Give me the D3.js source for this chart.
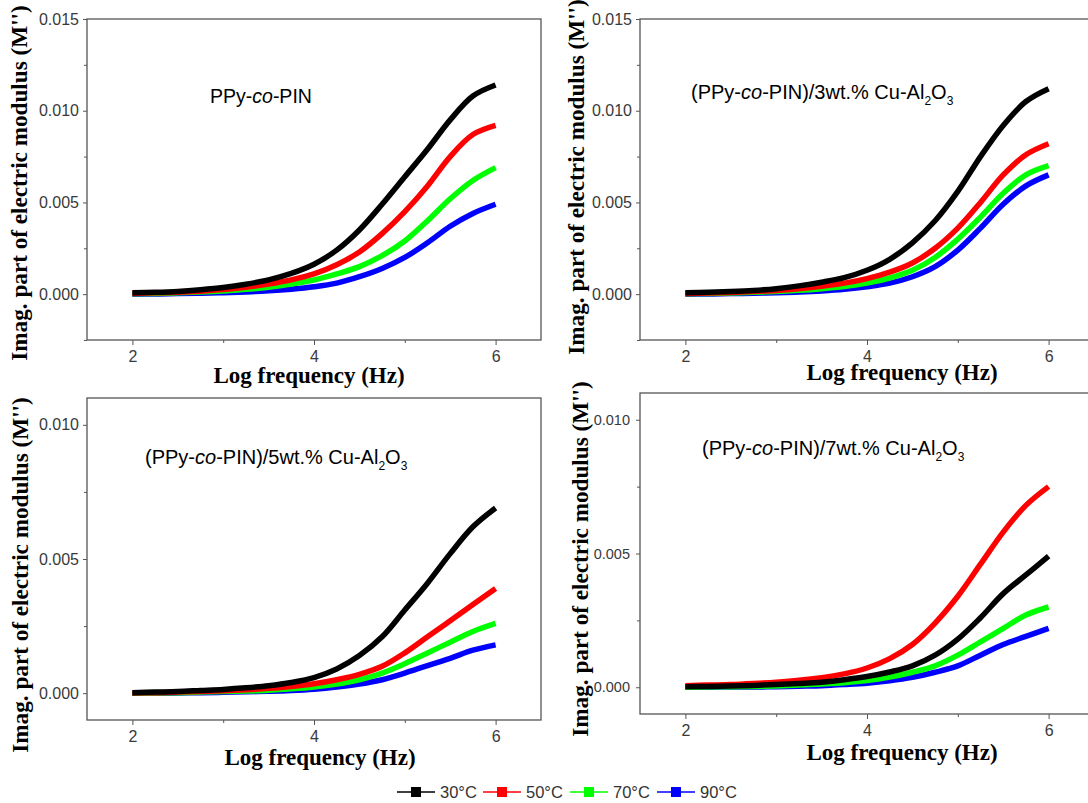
<!DOCTYPE html>
<html lang="en">
<head>
<meta charset="UTF-8">
<title>Electric modulus</title>
<script src="https://d3js.org/d3.v7.min.js"></script>
<style>
  body { margin: 0; background: #fff; overflow: hidden; }
  .tick text { font-family: "Liberation Sans", Arial, sans-serif; fill: #3a3a3a; }
</style>
</head>
<body>
<script>
    // log frequency points shared by all curves
    const logFreq = [2, 2.25, 2.5, 2.75, 3, 3.25, 3.5, 3.75, 4, 4.25, 4.5, 4.75, 5, 5.25, 5.5, 5.75, 6];

    const temps = ["30°C", "50°C", "70°C", "90°C"];
    const colors = ["#000000", "#ff0000", "#00ff00", "#0000ff"];

    // PPy-co-PIN
    const p0_30 = [0.00007, 0.0001, 0.00015, 0.00024, 0.00036, 0.00054, 0.00078, 0.00113, 0.00163, 0.0024, 0.0035, 0.0049, 0.0064, 0.0079, 0.0095, 0.0108, 0.0114];
    const p0_50 = [0.00004, 0.00007, 0.0001, 0.00016, 0.00025, 0.00038, 0.00055, 0.00078, 0.0011, 0.0016, 0.0023, 0.0033, 0.0045, 0.0059, 0.0075, 0.0087, 0.0092];
    const p0_70 = [0.00002, 0.00004, 0.00007, 0.00011, 0.00017, 0.00026, 0.00038, 0.00055, 0.00077, 0.0011, 0.0015, 0.0021, 0.0029, 0.004, 0.0052, 0.0062, 0.0069];
    const p0_90 = [0.0, 0.00001, 0.00003, 0.00005, 0.00008, 0.00012, 0.00018, 0.00027, 0.0004, 0.0006, 0.00095, 0.0014, 0.002, 0.0028, 0.0037, 0.0044, 0.0049];

    // 3 wt.% Cu-Al2O3
    const p3_30 = [0.00007, 0.0001, 0.00014, 0.0002, 0.0003, 0.00045, 0.00065, 0.0009, 0.0013, 0.0019, 0.0028, 0.004, 0.0056, 0.0075, 0.0092, 0.0105, 0.0112];
    const p3_50 = [0.00004, 0.00006, 0.00009, 0.00014, 0.0002, 0.0003, 0.00043, 0.0006, 0.00085, 0.0012, 0.0017, 0.0025, 0.0036, 0.005, 0.0065, 0.0076, 0.0082];
    const p3_70 = [0.00002, 0.00004, 0.00006, 0.0001, 0.00015, 0.00021, 0.0003, 0.00042, 0.0006, 0.00088, 0.0013, 0.002, 0.003, 0.0042, 0.0055, 0.0065, 0.007];
    const p3_90 = [0.0, 0.00001, 0.00003, 0.00005, 0.00007, 0.00011, 0.00017, 0.00026, 0.0004, 0.0006, 0.00095, 0.0015, 0.0024, 0.0036, 0.0049, 0.0059, 0.0065];

    // 5 wt.% Cu-Al2O3
    const p5_30 = [0.00002, 0.00004, 0.00006, 0.0001, 0.00014, 0.0002, 0.00028, 0.0004, 0.00058, 0.0009, 0.0014, 0.0021, 0.0031, 0.0041, 0.0052, 0.0062, 0.0069];
    const p5_50 = [0.00001, 0.00002, 0.00004, 0.00006, 0.00009, 0.00013, 0.00018, 0.00025, 0.00035, 0.0005, 0.0007, 0.001, 0.0015, 0.0021, 0.0027, 0.0033, 0.0039];
    const p5_70 = [0.0, 0.00001, 0.00002, 0.00004, 0.00006, 0.00008, 0.00011, 0.00016, 0.00023, 0.00034, 0.0005, 0.00075, 0.0011, 0.0015, 0.0019, 0.0023, 0.0026];
    const p5_90 = [0.0, 0.0, 0.00001, 0.00002, 0.00003, 0.00005, 0.00007, 0.0001, 0.00015, 0.00023, 0.00034, 0.0005, 0.00075, 0.00103, 0.0013, 0.0016, 0.0018];

    // 7 wt.% Cu-Al2O3
    const p7_30 = [0.00002, 0.00003, 0.00005, 0.00007, 0.0001, 0.00014, 0.00019, 0.00028, 0.0004, 0.00057, 0.0008, 0.0012, 0.0018, 0.0026, 0.0035, 0.0042, 0.0049];
    const p7_50 = [0.00006, 0.00008, 0.0001, 0.00014, 0.00019, 0.00026, 0.00036, 0.0005, 0.00072, 0.00107, 0.0016, 0.0024, 0.0034, 0.0046, 0.0058, 0.0068, 0.0075];
    const p7_70 = [0.0, 0.00001, 0.00002, 0.00003, 0.00005, 0.00008, 0.00012, 0.00017, 0.00025, 0.00038, 0.00056, 0.0008, 0.0012, 0.0017, 0.0022, 0.0027, 0.003];
    const p7_90 = [0.0, 0.0, 0.00001, 0.00001, 0.00002, 0.00004, 0.00006, 0.0001, 0.00015, 0.00024, 0.00037, 0.00056, 0.0008, 0.0012, 0.0016, 0.0019, 0.0022];

    const yTicksTop = [0, 0.005, 0.01, 0.015];
    const yMinorTop = [-0.0025, 0.0025, 0.0075, 0.0125];
    const yTicksBottom = [0, 0.005, 0.01];
    const yMinorBottom = [0.0025, 0.0075];
    const xTicks = [2, 4, 6];
    const xMinor = [3, 5];

    const panels = [
        { left: 87, top: 19, bottom: 340, yDom: [-0.0025, 0.015], yTicks: yTicksTop, yMinor: yMinorTop,
          series: [p0_30, p0_50, p0_70, p0_90], title: ["PPy-", "co", "-PIN"], sub: false,
          tx: 210, ty: 103, yTitleX: 27, yTitleY: 183, xTitleX: 309, xTitleY: 383, tickFont: 16 },
        { left: 640, top: 19, bottom: 340, yDom: [-0.0025, 0.015], yTicks: yTicksTop, yMinor: yMinorTop,
          series: [p3_30, p3_50, p3_70, p3_90], title: ["(PPy-", "co", "-PIN)/3wt.% Cu-Al"], sub: true,
          tx: 691, ty: 99, yTitleX: 584, yTitleY: 177, xTitleX: 902, xTitleY: 380, tickFont: 16 },
        { left: 87, top: 398, bottom: 720, yDom: [-0.001, 0.011], yTicks: yTicksBottom, yMinor: yMinorBottom,
          series: [p5_30, p5_50, p5_70, p5_90], title: ["(PPy-", "co", "-PIN)/5wt.% Cu-Al"], sub: true,
          tx: 145, ty: 464, yTitleX: 28, yTitleY: 575, xTitleX: 320, xTitleY: 765, tickFont: 16 },
        { left: 640, top: 393, bottom: 714, yDom: [-0.001, 0.011], yTicks: yTicksBottom, yMinor: yMinorBottom,
          series: [p7_30, p7_50, p7_70, p7_90], title: ["(PPy-", "co", "-PIN)/7wt.% Cu-Al"], sub: true,
          tx: 702, ty: 455, yTitleX: 588, yTitleY: 559, xTitleX: 902, xTitleY: 760, tickFont: 14.5 }
    ];

    const svg = d3.select("body").append("svg")
        .attr("width", 1088)
        .attr("height", 803);

    panels.forEach((p, pi) => {
        const x = d3.scaleLinear().domain([1.5, 6.5]).range([p.left, p.left + 454]);
        const y = d3.scaleLinear().domain(p.yDom).range([p.bottom, p.top]);
        const right = x.range()[1];

        const g = svg.append("g");

        const line = d3.line()
            .x(d => x(d[0]))
            .y(d => y(d[1]))
            .curve(d3.curveCatmullRom.alpha(0.5));

        // blue first, black last (on top)
        for (let s = p.series.length - 1; s >= 0; s--) {
            const pts = logFreq.map((f, i) => [f, p.series[s][i]]);
            g.append("path")
                .attr("d", line(pts))
                .attr("fill", "none")
                .attr("stroke", colors[s])
                .attr("stroke-width", 5.5)
                .attr("stroke-linejoin", "round");
        }

        // frame
        g.append("rect")
            .attr("x", p.left)
            .attr("y", p.top)
            .attr("width", right - p.left)
            .attr("height", p.bottom - p.top)
            .attr("fill", "none")
            .attr("stroke", "#555")
            .attr("stroke-width", 1.3);

        // x axis
        const gx = g.append("g").attr("transform", `translate(0,${p.bottom})`)
            .call(d3.axisBottom(x).tickValues(xTicks).tickSize(5).tickFormat(d3.format("d")));
        gx.select(".domain").remove();
        gx.selectAll("line").attr("stroke", "#555");
        gx.selectAll("text").attr("font-size", 16).attr("dy", "0.9em");
        const gxm = g.append("g").attr("transform", `translate(0,${p.bottom})`)
            .call(d3.axisBottom(x).tickValues(xMinor).tickSize(3).tickFormat(""));
        gxm.select(".domain").remove();
        gxm.selectAll("line").attr("stroke", "#555");

        // y axis
        const gy = g.append("g").attr("transform", `translate(${p.left},0)`)
            .call(d3.axisLeft(y).tickValues(p.yTicks).tickSize(4).tickFormat(d3.format(".3f")));
        gy.select(".domain").remove();
        gy.selectAll("line").attr("stroke", "#555");
        gy.selectAll("text").attr("font-size", p.tickFont).attr("x", pi === 3 ? -10 : -8);
        const gym = g.append("g").attr("transform", `translate(${p.left},0)`)
            .call(d3.axisLeft(y).tickValues(p.yMinor).tickSize(3).tickFormat(""));
        gym.select(".domain").remove();
        gym.selectAll("line").attr("stroke", "#555");

        // axis titles
        g.append("text")
            .attr("x", p.xTitleX)
            .attr("y", p.xTitleY)
            .attr("text-anchor", "middle")
            .attr("font-family", "'Liberation Serif', 'Times New Roman', serif")
            .attr("font-weight", "bold")
            .attr("font-size", 23)
            .attr("fill", "#000")
            .text("Log frequency (Hz)");

        g.append("text")
            .attr("transform", `translate(${p.yTitleX},${p.yTitleY}) rotate(-90)`)
            .attr("text-anchor", "middle")
            .attr("font-family", "'Liberation Serif', 'Times New Roman', serif")
            .attr("font-weight", "bold")
            .attr("font-size", 23.2)
            .attr("fill", "#000")
            .text("Imag. part of electric modulus (M'')");

        // sample label
        const t = g.append("text")
            .attr("x", p.tx)
            .attr("y", p.ty)
            .attr("font-family", "'Liberation Sans', Arial, sans-serif")
            .attr("font-size", p.sub ? 20 : 19.5)
            .attr("fill", "#000");
        t.append("tspan").text(p.title[0]);
        t.append("tspan").attr("font-style", "italic").text(p.title[1]);
        t.append("tspan").text(p.title[2]);
        if (p.sub) {
            t.append("tspan").attr("font-size", 12).attr("dy", 6).text("2");
            t.append("tspan").attr("dy", -6).text("O");
            t.append("tspan").attr("font-size", 12).attr("dy", 6).text("3");
        }
    });

    // legend
    const legendX = [397, 483, 570, 657];
    const legendY = 792;
    const lg = svg.append("g");
    temps.forEach((tname, i) => {
        lg.append("line")
            .attr("x1", legendX[i]).attr("x2", legendX[i] + 38)
            .attr("y1", legendY).attr("y2", legendY)
            .attr("stroke", colors[i]).attr("stroke-width", 1.5);
        lg.append("rect")
            .attr("x", legendX[i] + 14).attr("y", legendY - 5)
            .attr("width", 10).attr("height", 10)
            .attr("fill", colors[i]);
        lg.append("text")
            .attr("x", legendX[i] + 43)
            .attr("y", legendY + 6)
            .attr("font-family", "'Liberation Sans', Arial, sans-serif")
            .attr("font-size", 16.5)
            .attr("fill", "#333")
            .text(tname);
    });
</script>
</body>
</html>
